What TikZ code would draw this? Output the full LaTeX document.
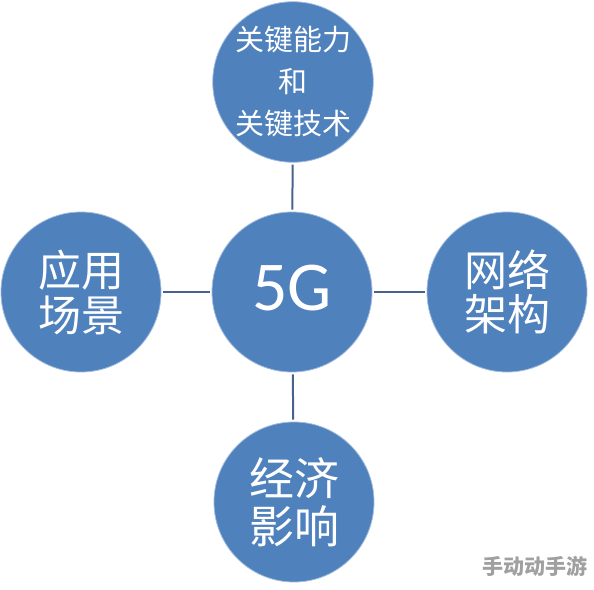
\documentclass[tikz,border=0pt]{standalone}
\usepackage{fontspec}
\setmainfont{Carlito}
\newfontfamily\cjk{Noto Sans CJK SC}
\usetikzlibrary{calc}
\definecolor{bubblefill}{RGB}{79,129,189}
\definecolor{bubblerim}{RGB}{160,188,222}
\definecolor{linkline}{RGB}{72,98,142}
\definecolor{markgray}{RGB}{160,160,160}

\begin{document}
\begin{tikzpicture}[x=1pt,y=-1pt,
        bubble/.style={circle, fill=bubblefill, draw=bubblerim, line width=0.8pt, minimum size=160pt, inner sep=0pt, text=white, align=center},
        linkto/.style={draw=linkline, line width=2pt, shorten <=2pt, shorten >=2pt}]
        \useasboundingbox (0,0) rectangle (594,589);

        \coordinate (C) at (292,292);
        \coordinate (T) at (293,82);
        \coordinate (L) at (81,292);
        \coordinate (R) at (507,292);
        \coordinate (B) at (294,502);

        \node[bubble, text depth=8pt, font=\fontsize{70}{72}\selectfont] (core) at (C) {5G};
        \node[bubble, font=\cjk\fontsize{29}{42}\selectfont] (tech) at (T) {关键能力\\和\\关键技术};
        \node[bubble, font=\cjk\fontsize{43}{45}\selectfont] (apps) at (L) {应用\\场景};
        \node[bubble, font=\cjk\fontsize{43}{44}\selectfont] (net) at (R) {网络\\架构};
        \node[bubble, font=\cjk\fontsize{45}{48}\selectfont] (econ) at (B) {经济\\影响};

        \draw[linkto] (core) -- (tech);
        \draw[linkto] (core) -- (apps);
        \draw[linkto] (core) -- (net);
        \draw[linkto] (core) -- (econ);

        \node[text=markgray, font=\cjk\bfseries\fontsize{21}{22}\selectfont] (mark) at (535,566) {手动动手游};
    \end{tikzpicture}
\end{document}
